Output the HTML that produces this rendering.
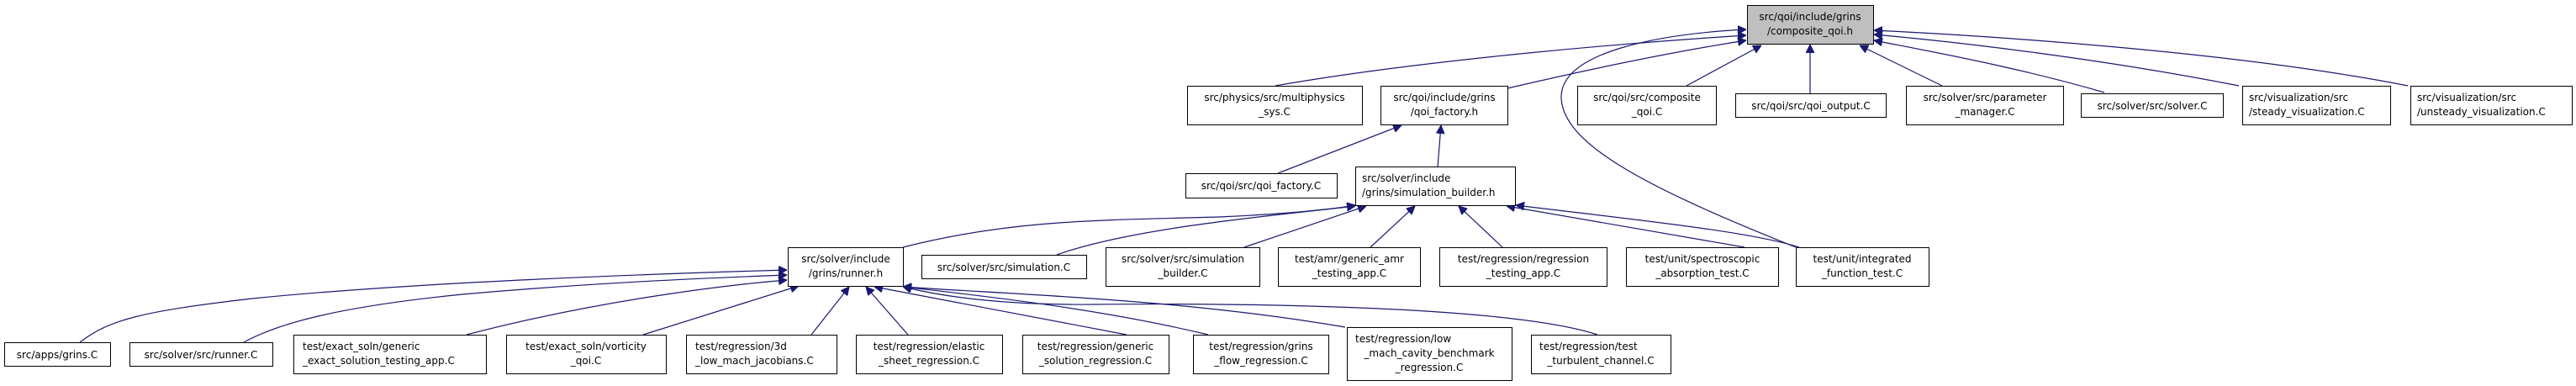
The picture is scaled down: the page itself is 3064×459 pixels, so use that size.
<!DOCTYPE html>
<html><head><meta charset="utf-8"><style>
html,body{margin:0;padding:0;background:#fff;}
svg{display:block;}
text{font-family:"DejaVu Sans","Liberation Sans",sans-serif;font-size:12px;fill:#000;}
.b{fill:#fff;stroke:#000;stroke-width:1;}
.e{fill:none;stroke:#191970;stroke-width:1.2;}
</style></head><body>
<svg width="3064" height="459" viewBox="0 0 3064 459" xmlns="http://www.w3.org/2000/svg">
<defs><marker id="a" viewBox="0 0 10 10" refX="10" refY="5" markerWidth="10" markerHeight="10" markerUnits="userSpaceOnUse" orient="auto"><path d="M0,0 L10,5 L0,10 z" fill="#191970" stroke="#191970"/></marker></defs>

<!-- edges to root -->
<path class="e" marker-end="url(#a)" d="M1517,102 C1700,70 1950,50 2077,42"/>
<path class="e" marker-end="url(#a)" d="M1793,105 C1900,80 2000,60 2077,48"/>
<path class="e" marker-end="url(#a)" d="M2006,102 L2095,54"/>
<path class="e" marker-end="url(#a)" d="M2153,111 L2153,53"/>
<path class="e" marker-end="url(#a)" d="M2310,102 L2212,54"/>
<path class="e" marker-end="url(#a)" d="M2503,110 C2400,80 2300,62 2229,48"/>
<path class="e" marker-end="url(#a)" d="M2663,102 C2500,70 2330,50 2229,41"/>
<path class="e" marker-end="url(#a)" d="M2864,102 C2650,60 2350,42 2229,36"/>
<path class="e" marker-end="url(#a)" d="M2136,294 C1950,220 1860,170 1857,117 C1855,60 1980,40 2077,35"/>
<!-- qoi_factory.h -->
<path class="e" marker-end="url(#a)" d="M1520,206 L1667,149"/>
<path class="e" marker-end="url(#a)" d="M1710,199 L1714,149"/>
<!-- simulation_builder.h -->
<path class="e" marker-end="url(#a)" d="M1074,294 C1200,262 1300,262 1450,258 C1540,254 1590,248 1612,244"/>
<path class="e" marker-end="url(#a)" d="M1257,303 C1350,270 1520,256 1612,245"/>
<path class="e" marker-end="url(#a)" d="M1480,294 L1625,245"/>
<path class="e" marker-end="url(#a)" d="M1630,294 L1683,245"/>
<path class="e" marker-end="url(#a)" d="M1787,294 L1735,245"/>
<path class="e" marker-end="url(#a)" d="M2075,294 L1792,245"/>
<path class="e" marker-end="url(#a)" d="M2140,294 C2080,275 1950,262 1803,244"/>
<!-- runner.h -->
<path class="e" marker-end="url(#a)" d="M95,407 C130,380 170,370 300,355 C500,335 800,325 936,321"/>
<path class="e" marker-end="url(#a)" d="M290,407 C330,385 400,365 550,350 C720,335 860,330 936,327"/>
<path class="e" marker-end="url(#a)" d="M555,398 C700,360 850,340 936,333"/>
<path class="e" marker-end="url(#a)" d="M765,398 L950,340"/>
<path class="e" marker-end="url(#a)" d="M965,398 L1010,341"/>
<path class="e" marker-end="url(#a)" d="M1080,398 L1030,341"/>
<path class="e" marker-end="url(#a)" d="M1340,398 L1040,341"/>
<path class="e" marker-end="url(#a)" d="M1437,398 C1300,365 1150,350 1074,341"/>
<path class="e" marker-end="url(#a)" d="M1600,389 C1400,355 1200,350 1074,341"/>
<path class="e" marker-end="url(#a)" d="M1900,398 C1800,365 1500,360 1300,362 C1180,363 1110,350 1074,341"/>

<!-- nodes -->
<rect x="2078.5" y="6.5" width="150" height="46" fill="#bfbfbf" stroke="#000"/>
<text x="2153" y="24" text-anchor="middle">src/qoi/include/grins</text>
<text x="2153" y="41" text-anchor="middle">/composite_qoi.h</text>

<rect class="b" x="1412.5" y="102.5" width="208" height="46"/>
<text x="1516" y="120" text-anchor="middle">src/physics/src/multiphysics</text>
<text x="1516" y="137" text-anchor="middle">_sys.C</text>

<rect class="b" x="1642.5" y="102.5" width="151" height="46"/>
<text x="1718" y="120" text-anchor="middle">src/qoi/include/grins</text>
<text x="1718" y="137" text-anchor="middle">/qoi_factory.h</text>

<rect class="b" x="1876.5" y="102.5" width="165" height="46"/>
<text x="1959" y="120" text-anchor="middle">src/qoi/src/composite</text>
<text x="1959" y="137" text-anchor="middle">_qoi.C</text>

<rect class="b" x="2064.5" y="111.5" width="179" height="28"/>
<text x="2154" y="130" text-anchor="middle">src/qoi/src/qoi_output.C</text>

<rect class="b" x="2267.5" y="102.5" width="187" height="46"/>
<text x="2361" y="120" text-anchor="middle">src/solver/src/parameter</text>
<text x="2361" y="137" text-anchor="middle">_manager.C</text>

<rect class="b" x="2475.5" y="111.5" width="169" height="28"/>
<text x="2560" y="130" text-anchor="middle">src/solver/src/solver.C</text>

<rect class="b" x="2667.5" y="102.5" width="176" height="46"/>
<text x="2675" y="120">src/visualization/src</text>
<text x="2675" y="137">/steady_visualization.C</text>

<rect class="b" x="2867.5" y="102.5" width="192" height="46"/>
<text x="2875" y="120">src/visualization/src</text>
<text x="2875" y="137">/unsteady_visualization.C</text>

<rect class="b" x="1410.5" y="206.5" width="180" height="29"/>
<text x="1500" y="225" text-anchor="middle">src/qoi/src/qoi_factory.C</text>

<rect class="b" x="1612.5" y="198.5" width="190" height="46"/>
<text x="1620" y="216">src/solver/include</text>
<text x="1620" y="233">/grins/simulation_builder.h</text>

<rect class="b" x="937.5" y="294.5" width="137" height="46"/>
<text x="1006" y="312" text-anchor="middle">src/solver/include</text>
<text x="1006" y="329" text-anchor="middle">/grins/runner.h</text>

<rect class="b" x="1096.5" y="303.5" width="196" height="28"/>
<text x="1194" y="322" text-anchor="middle">src/solver/src/simulation.C</text>

<rect class="b" x="1315.5" y="294.5" width="183" height="46"/>
<text x="1407" y="312" text-anchor="middle">src/solver/src/simulation</text>
<text x="1407" y="329" text-anchor="middle">_builder.C</text>

<rect class="b" x="1520.5" y="294.5" width="169" height="46"/>
<text x="1605" y="312" text-anchor="middle">test/amr/generic_amr</text>
<text x="1605" y="329" text-anchor="middle">_testing_app.C</text>

<rect class="b" x="1712.5" y="294.5" width="199" height="46"/>
<text x="1812" y="312" text-anchor="middle">test/regression/regression</text>
<text x="1812" y="329" text-anchor="middle">_testing_app.C</text>

<rect class="b" x="1934.5" y="294.5" width="181" height="46"/>
<text x="2025" y="312" text-anchor="middle">test/unit/spectroscopic</text>
<text x="2025" y="329" text-anchor="middle">_absorption_test.C</text>

<rect class="b" x="2136.5" y="294.5" width="158" height="46"/>
<text x="2215" y="312" text-anchor="middle">test/unit/integrated</text>
<text x="2215" y="329" text-anchor="middle">_function_test.C</text>

<!-- bottom row -->
<rect class="b" x="5.5" y="407.5" width="126" height="28"/>
<text x="68" y="426" text-anchor="middle">src/apps/grins.C</text>

<rect class="b" x="154.5" y="407.5" width="170" height="28"/>
<text x="239" y="426" text-anchor="middle">src/solver/src/runner.C</text>

<rect class="b" x="349.5" y="398.5" width="229" height="46"/>
<text x="360" y="416">test/exact_soln/generic</text>
<text x="360" y="433">_exact_solution_testing_app.C</text>

<rect class="b" x="602.5" y="398.5" width="190" height="46"/>
<text x="697" y="416" text-anchor="middle">test/exact_soln/vorticity</text>
<text x="697" y="433" text-anchor="middle">_qoi.C</text>

<rect class="b" x="816.5" y="398.5" width="179" height="46"/>
<text x="827" y="416">test/regression/3d</text>
<text x="827" y="433">_low_mach_jacobians.C</text>

<rect class="b" x="1018.5" y="398.5" width="174" height="46"/>
<text x="1105" y="416" text-anchor="middle">test/regression/elastic</text>
<text x="1105" y="433" text-anchor="middle">_sheet_regression.C</text>

<rect class="b" x="1216.5" y="398.5" width="174" height="46"/>
<text x="1303" y="416" text-anchor="middle">test/regression/generic</text>
<text x="1303" y="433" text-anchor="middle">_solution_regression.C</text>

<rect class="b" x="1419.5" y="398.5" width="161" height="46"/>
<text x="1500" y="416" text-anchor="middle">test/regression/grins</text>
<text x="1500" y="433" text-anchor="middle">_flow_regression.C</text>

<rect class="b" x="1602.5" y="389.5" width="196" height="63"/>
<text x="1612" y="407">test/regression/low</text>
<text x="1700" y="424" text-anchor="middle">_mach_cavity_benchmark</text>
<text x="1700" y="441" text-anchor="middle">_regression.C</text>

<rect class="b" x="1821.5" y="398.5" width="166" height="46"/>
<text x="1831" y="416">test/regression/test</text>
<text x="1904" y="433" text-anchor="middle">_turbulent_channel.C</text>
</svg>
</body></html>
